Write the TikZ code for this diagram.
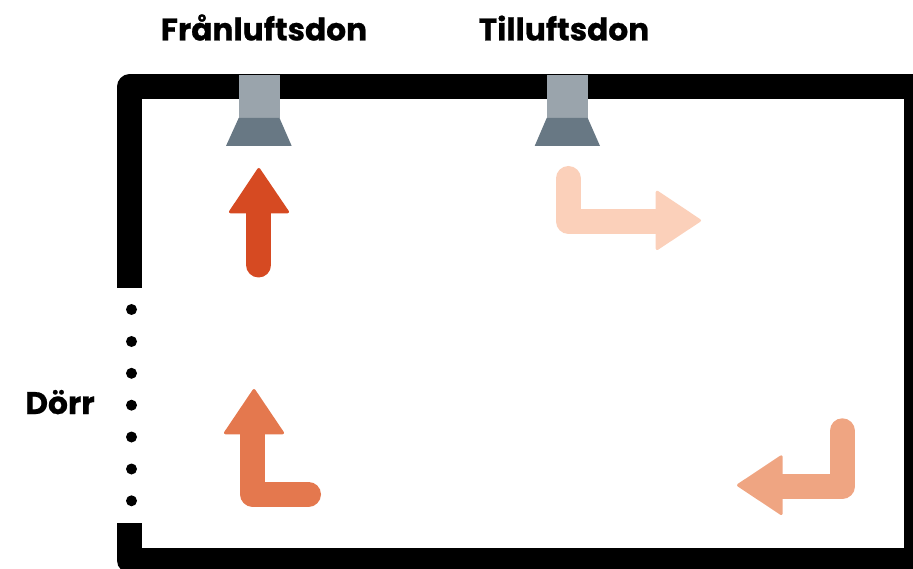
\documentclass[tikz,border=0pt]{standalone}
\usepackage{fontspec}
\setmainfont{Poppins}[BoldFeatures={FakeBold=0.7}]
\definecolor{wallblack}{HTML}{000000}
\definecolor{neckgrey}{HTML}{9AA4AC}
\definecolor{hoodgrey}{HTML}{687884}
\definecolor{flowred}{HTML}{D64A22}
\definecolor{flowpale}{HTML}{FBD0BA}
\definecolor{flowlight}{HTML}{EFA582}
\definecolor{flowmid}{HTML}{E4784E}
\tikzset{
  wall/.style={line width=25pt, line join=round, color=wallblack},
  flowline/.style={line width=25pt, line cap=round, line join=round},
  flowhead/.style={line width=3pt, line join=round},
  roomlabel/.style={anchor=base, inner sep=0pt, font=\fontsize{31.2}{31.2}\selectfont\bfseries}
}
\begin{document}
\begin{tikzpicture}[x=1pt, y=-1pt]

\useasboundingbox (0, 0) rectangle (913, 569);
\clip (0, 0) rectangle (913, 569);

\draw[wall] (129.5, 288) -- (129.5, 87) -- (916.5, 87) -- (916.5, 560.5) -- (129.5, 560.5) -- (129.5, 523);

\foreach \y in {309.5, 341.5, 373.3, 405.2, 437, 469, 500.8}
  \fill (131.5, \y) circle (5.5);

\fill[neckgrey] (238.7, 75) rectangle (279.5, 118);
\fill[hoodgrey] (238.7, 118) -- (279.5, 118) -- (291.7, 146) -- (226, 146) -- cycle;

\fill[neckgrey] (546.7, 75) rectangle (587.7, 118);
\fill[hoodgrey] (546.7, 118) -- (587.7, 118) -- (600, 146) -- (534.7, 146) -- cycle;

\draw[flowline, flowred] (258.7, 265) -- (258.7, 205);
\filldraw[flowhead, flowred] (258.8, 169.5) -- (287.5, 211.8) -- (230.5, 211.8) -- cycle;

\draw[flowline, flowpale] (568.3, 178.5) -- (568.3, 221.2) -- (665, 221.2);
\filldraw[flowhead, flowpale] (699.5, 220.5) -- (657.2, 192.2) -- (657.2, 248.5) -- cycle;

\draw[flowline, flowlight] (842.2, 430.8) -- (842.2, 486.5) -- (775, 486.5);
\filldraw[flowhead, flowlight] (738.5, 485.2) -- (781.2, 456.8) -- (781.2, 513.5) -- cycle;

\draw[flowline, flowmid] (308.5, 494.2) -- (252.7, 494.2) -- (252.7, 425);
\filldraw[flowhead, flowmid] (254, 390.5) -- (282.5, 432.8) -- (225.5, 432.8) -- cycle;

\draw (264, 40.5) node [roomlabel] (franluft) {Frånluftsdon};

\draw (564, 40.5) node [roomlabel] (tilluft) {Tilluftsdon};

\draw (60, 414) node [roomlabel] (dorr) {Dörr};

\end{tikzpicture}
\end{document}
